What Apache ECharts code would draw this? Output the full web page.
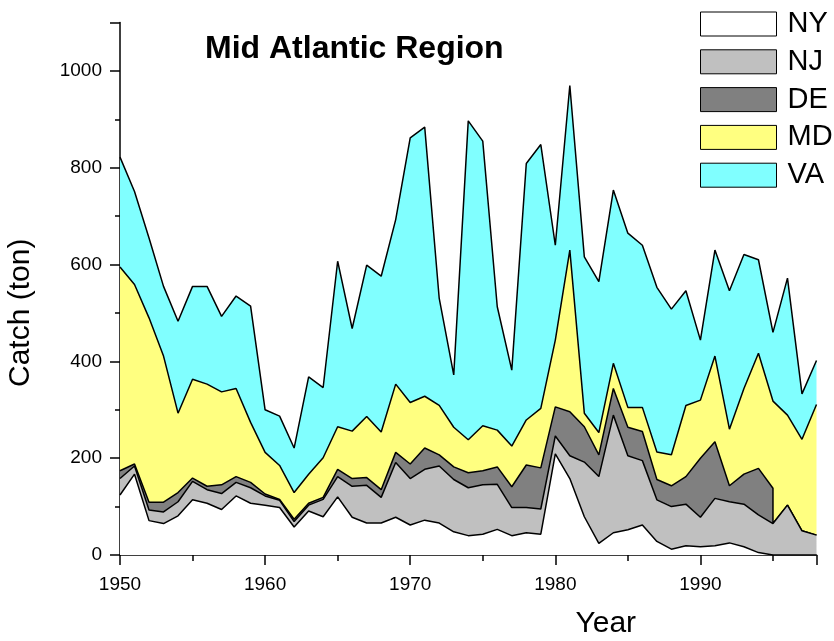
<!DOCTYPE html>
<html>
<head>
<meta charset="utf-8">
<script src="https://cdn.jsdelivr.net/npm/echarts@6/dist/echarts.min.js"></script>
<style>html,body{margin:0;padding:0;background:#fff;}#c{width:834px;height:641px;}</style>
</head>
<body>
<div id="c"></div>
<script>
const years = [1950,1951,1952,1953,1954,1955,1956,1957,1958,1959,1960,1961,1962,1963,1964,1965,1966,1967,1968,1969,1970,1971,1972,1973,1974,1975,1976,1977,1978,1979,1980,1981,1982,1983,1984,1985,1986,1987,1988,1989,1990,1991,1992,1993,1994,1995,1996,1997,1998];
const NY = [124,167,71,65,81,114,107,94,122,107,103,98,58,91,79,120,78,66,66,78,62,72,66,48,40,43,53,40,46,43,209,158,79,24,46,52,62,28,12,19,17,19,25,17,5,0,0,0,0];
const NJ = [34,17,22,24,29,38,28,33,28,32,19,15,11,12,36,42,64,78,53,113,96,105,118,108,99,102,93,58,52,52,37,47,113,138,243,153,133,86,88,86,61,98,85,88,78,65,103,50,41];
const DE = [16,4,16,20,19,7,7,18,12,11,4,2,5,4,4,15,16,16,16,21,30,44,23,26,31,29,36,43,88,85,60,91,73,45,55,59,60,42,43,57,122,117,33,62,96,73,null,null,null];
const MD = [421,371,381,302,164,204,211,192,182,124,86,70,55,60,82,88,98,126,119,141,127,107,102,82,68,93,76,84,93,123,138,334,28,46,52,41,50,57,64,147,120,177,117,177,238,180,186,189,270];
const VA = [227,192,165,144,190,192,202,156,191,240,88,102,92,201,145,342,212,313,322,340,547,556,221,108,659,588,255,157,530,545,196,340,323,312,358,360,335,340,301,237,124,219,286,277,193,142,283,94,91];

const names = ['NY','NJ','DE','MD','VA'];
const colors = ['#ffffff','#c0c0c0','#808080','#ffff80','#80ffff'];
const values = [NY, NJ, DE, MD, VA];

// Rows by year; where DE stops reporting, repeat that year with the DE layer closed
// (DE = 0, MD then sits directly on NJ) so the DE layer ends with a vertical edge.
const xs = [];
const cols = values.map(() => []);
for (let i = 0; i < years.length; i++) {
  xs.push(years[i]);
  values.forEach((v, k) => cols[k].push(v[i] == null ? 0 : v[i]));
  if (DE[i] != null && i + 1 < years.length && DE[i + 1] == null) {
    xs.push(years[i]);
    values.forEach((v, k) => {
      let val = v[i] == null ? 0 : v[i];
      if (k === 2) val = 0;
      if (k === 3) val = MD[i] + DE[i];
      cols[k].push(val);
    });
  }
}

const font = 'Liberation Sans, Arial, sans-serif';
const series = names.map((n, k) => ({
  name: n,
  type: 'line',
  stack: 'total',
  z: 10 - k,
  symbol: 'none',
  color: colors[k],
  lineStyle: { color: '#000', width: 1.5 },
  areaStyle: { color: colors[k], opacity: 1 },
  emphasis: { disabled: true },
  // value first so that stacking happens on the catch (y) dimension
  encode: { x: 1, y: 0 },
  data: xs.map((x, i) => [cols[k][i], x])
}));

const chart = echarts.init(document.getElementById('c'), null, { renderer: 'canvas' });
chart.setOption({
  animation: false,
  backgroundColor: '#fff',
  title: {
    text: 'Mid Atlantic Region',
    left: 200, top: 28,
    textStyle: { fontFamily: font, fontWeight: 'bold', fontSize: 32, color: '#000' }
  },
  legend: {
    orient: 'vertical',
    left: 700, top: 9.5, padding: 0,
    itemWidth: 76, itemHeight: 24, itemGap: 8.8,
    icon: 'rect',
    selectedMode: false,
    textStyle: { fontFamily: font, fontSize: 29, color: '#000', padding: [0, 0, 0, 6] },
    data: names.map((n, k) => ({ name: n, itemStyle: { color: colors[k], borderColor: '#000', borderWidth: 1 } }))
  },
  grid: { left: 120, right: 17.5, top: 22.6, bottom: 86, containLabel: false, outerBoundsMode: 'none' },
  xAxis: [{
    type: 'value', min: 1950, max: 1998, interval: 10,
    name: 'Year', nameLocation: 'middle', nameGap: 54,
    nameTextStyle: { fontFamily: font, fontSize: 30, color: '#000', padding: [0, 0, 0, 275] },
    axisLine: { lineStyle: { color: '#000', width: 1.5 } },
    axisTick: { length: 10, lineStyle: { color: '#000', width: 1.5 } },
    axisLabel: { fontFamily: font, fontSize: 19, color: '#000', margin: 20,
      formatter: v => (v % 10 === 0 ? String(v) : '') },
    splitLine: { show: false }
  }, {
    type: 'value', min: 1950, max: 1998, interval: 5, position: 'bottom',
    axisLine: { show: false },
    axisTick: { length: 6, lineStyle: { color: '#000', width: 1.5 } },
    axisLabel: { show: false },
    splitLine: { show: false }
  }],
  yAxis: [{
    type: 'value', min: 0, max: 1100, interval: 200,
    name: 'Catch (ton)', nameLocation: 'middle', nameGap: 84,
    nameTextStyle: { fontFamily: font, fontSize: 30, color: '#000', padding: [0, 48, 0, 0] },
    axisLine: { show: true, lineStyle: { color: '#000', width: 1.5 } },
    axisTick: { length: 10, lineStyle: { color: '#000', width: 1.5 } },
    axisLabel: { fontFamily: font, fontSize: 19, color: '#000', margin: 18,
      formatter: v => (v % 200 === 0 ? String(v) : '') },
    splitLine: { show: false }
  }, {
    type: 'value', min: 0, max: 1100, interval: 100, position: 'left',
    axisLine: { show: false },
    axisTick: { show: true, length: 5, lineStyle: { color: '#000', width: 1.5 } },
    axisLabel: { show: false },
    splitLine: { show: false }
  }],
  series: series
});
</script>
</body>
</html>
